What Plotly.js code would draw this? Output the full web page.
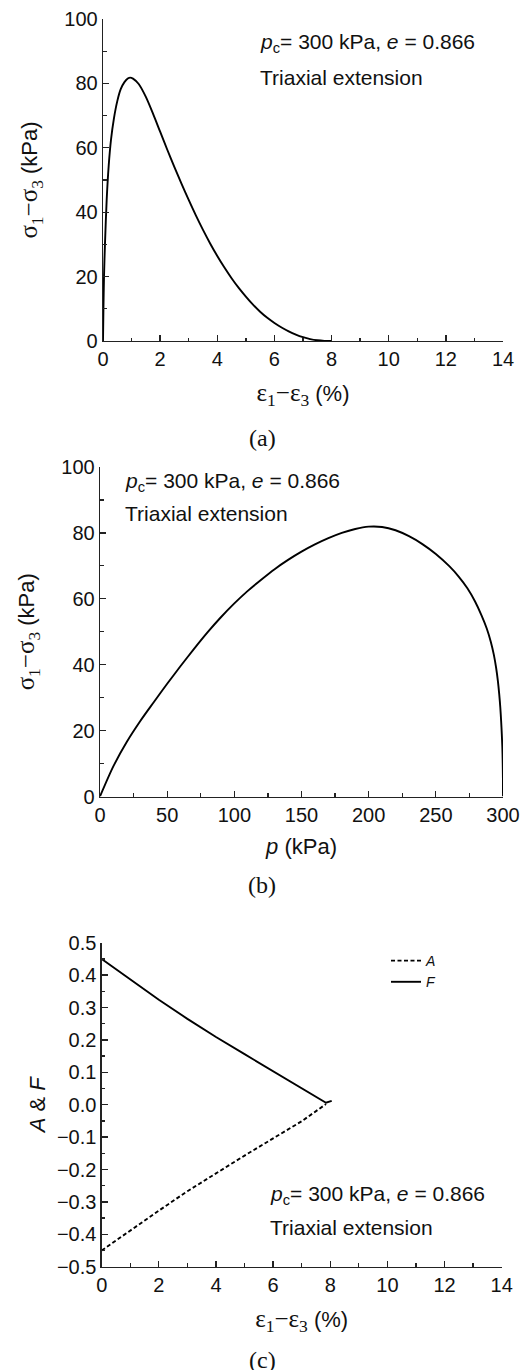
<!DOCTYPE html>
<html><head><meta charset="utf-8">
<script src="https://cdn.plot.ly/plotly-3.0.1.min.js"></script>
<style>html,body{margin:0;padding:0;background:#fff;}#chart{width:528px;height:1370px;}</style>
</head><body><div id="chart"></div>
<script>
// Panel (a): deviator stress vs strain difference
const strainA = [0, 0.015, 0.035, 0.07, 0.13, 0.2, 0.28, 0.38, 0.5, 0.62, 0.75, 0.88, 0.95, 1.05, 1.25, 1.5, 1.75, 2.0, 2.25, 2.5, 2.75, 3.0, 3.25, 3.5, 3.75, 4.0, 4.25, 4.5, 4.75, 5.0, 5.25, 5.5, 5.75, 6.0, 6.25, 6.5, 6.75, 7.0, 7.25, 7.5, 7.75, 8.0];
const devStressA = [0, 10, 20, 30.4, 44, 54.5, 62.5, 69, 74.5, 78.2, 80.4, 81.6, 81.8, 81.5, 79.8, 75.8, 70.6, 65, 59.4, 54, 48.8, 43.8, 39, 34.5, 30.3, 26.4, 22.8, 19.5, 16.5, 13.8, 11.3, 9.1, 7.2, 5.6, 4.2, 3.0, 2.0, 1.2, 0.6, 0.22, 0.04, 0];
// Panel (b): stress path
const meanP = [0, 10, 20, 30, 40, 50, 60, 70, 80, 90, 100, 110, 120, 130, 140, 150, 160, 170, 180, 190, 200, 210, 220, 230, 240, 250, 260, 267, 273.5, 279.2, 284, 287.9, 290.9, 293.2, 294.9, 296.2, 297.2, 298, 298.6, 299.1, 299.5, 299.75, 299.95, 300];
const devStressB = [0, 9.2, 16.6, 22.9, 28.6, 34.2, 39.6, 44.8, 49.8, 54.4, 58.6, 62.4, 65.8, 69, 71.8, 74.3, 76.5, 78.4, 80, 81.2, 81.9, 81.8, 80.8, 79, 76.6, 73.6, 69.9, 66.75, 63.2, 59.2, 55, 51, 47, 43, 39, 35, 31, 27, 23, 19, 15, 11, 5.5, 0];
// Panel (c): A and F
const strainCA = [0, 1, 2, 3, 3.9, 5, 6, 7, 7.85];
const valuesA = [-0.45, -0.388, -0.327, -0.267, -0.217, -0.157, -0.104, -0.051, 0.002];
const strainCF = [0, 1, 2, 3, 4, 5, 6, 7, 7.64, 7.85, 8.05];
const valuesF = [0.45, 0.386, 0.324, 0.265, 0.209, 0.156, 0.104, 0.052, 0.018, 0.006, 0.012];
const seriesNames = ['<i>A</i>', '<i>F</i>'];
const infoLine1 = '<i>p</i><sub>c</sub>= 300 kPa, <i>e</i> = 0.866';
const infoLine2 = 'Triaxial extension';
const panelLabels = ['(a)', '(b)', '(c)'];

const SANS = 'Liberation Sans, Arial, Helvetica, sans-serif';
const SERIF = 'Liberation Serif, Times New Roman, serif';
const INK = '#111';
const AX = '#222';
const serifSpan = t => '<span style="font-family:Liberation Serif,Times New Roman,serif;font-size:25px">' + t + '</span>';
const strainTitle = serifSpan('ε<sub>1</sub>−ε<sub>3</sub>') + ' (%)';
const stressTitle = serifSpan('σ<sub>1</sub>−σ<sub>3</sub>') + ' (kPa)';

function axis(o) {
  return Object.assign({
    showline: true, linecolor: AX, linewidth: 1.3,
    ticks: 'inside', ticklen: 6, tickwidth: 1.3, tickcolor: AX,
    showgrid: false, zeroline: false, fixedrange: true,
    tickfont: {family: SANS, size: 20, color: INK}
  }, o);
}
function minor(d) { return {ticks: 'inside', ticklen: 3.5, tickwidth: 1.3, tickcolor: AX, dtick: d, showgrid: false}; }

const smoothLine = {color: '#000', width: 1.9, shape: 'spline', smoothing: 0.8};

const traces = [
  {x: strainA, y: devStressA, xaxis: 'x', yaxis: 'y', mode: 'lines', line: smoothLine, showlegend: false},
  {x: meanP, y: devStressB, xaxis: 'x2', yaxis: 'y2', mode: 'lines', line: smoothLine, showlegend: false},
  {x: strainCA, y: valuesA, xaxis: 'x3', yaxis: 'y3', mode: 'lines', name: seriesNames[0],
   line: {color: '#000', width: 1.9, dash: '4px,2.5px'}},
  {x: strainCF, y: valuesF, xaxis: 'x3', yaxis: 'y3', mode: 'lines', name: seriesNames[1],
   line: {color: '#000', width: 1.9}}
];

const H = 1370, W = 528;
const py = px => 1 - px / H;
const pxx = px => px / W;

function info(x, y1, y2) {
  return [
    {text: infoLine1, x: pxx(x), y: py(y1), xref: 'paper', yref: 'paper', xanchor: 'left', yanchor: 'middle', showarrow: false, font: {family: SANS, size: 21, color: INK}},
    {text: infoLine2, x: pxx(x), y: py(y2), xref: 'paper', yref: 'paper', xanchor: 'left', yanchor: 'middle', showarrow: false, font: {family: SANS, size: 21, color: INK}}
  ];
}
function label(t, y) {
  return {text: t, x: 0.497, y: py(y), xref: 'paper', yref: 'paper', xanchor: 'center', yanchor: 'middle', showarrow: false, font: {family: SERIF, size: 24, color: INK}};
}

const annotations = [].concat(
  info(258, 43, 77),
  info(123, 482, 513),
  info(268, 1195, 1227),
  [label(panelLabels[0], 438), label(panelLabels[1], 885), label(panelLabels[2], 1360)]
);

const titleFont = {family: SANS, size: 22, color: INK};

const layout = {
  width: W, height: H,
  margin: {l: 0, r: 0, t: 0, b: 0},
  paper_bgcolor: '#fff', plot_bgcolor: 'rgba(0,0,0,0)',
  showlegend: true,
  legend: {x: pxx(386), y: py(945), xanchor: 'left', yanchor: 'top', bgcolor: 'rgba(0,0,0,0)',
           font: {family: SANS, size: 14, color: INK}, tracegroupgap: 0, itemwidth: 30},
  xaxis: axis({domain: [pxx(103), pxx(503)], range: [0, 14], dtick: 2, minor: minor(1), anchor: 'y',
               title: {text: strainTitle, font: titleFont, standoff: 16}}),
  yaxis: axis({domain: [py(341), py(19)], range: [0, 100], dtick: 20, minor: minor(10), anchor: 'x',
               title: {text: stressTitle, font: titleFont, standoff: 20}}),
  xaxis2: axis({domain: [pxx(100), pxx(503)], range: [0, 300], dtick: 50, minor: minor(25), anchor: 'y2',
               title: {text: '<i>p</i> (kPa)', font: titleFont, standoff: 13}}),
  yaxis2: axis({domain: [py(796.5), py(467)], range: [0, 100], dtick: 20, minor: minor(10), anchor: 'x2',
               title: {text: stressTitle, font: titleFont, standoff: 20}}),
  xaxis3: axis({domain: [pxx(101.7), pxx(501.7)], range: [0, 14], dtick: 2, minor: minor(1), anchor: 'y3',
               title: {text: strainTitle, font: titleFont, standoff: 16}}),
  yaxis3: axis({domain: [py(1266.7), py(942.7)], range: [-0.5, 0.5], dtick: 0.1, tickformat: '.1f', minor: minor(0.05), anchor: 'x3',
               title: {text: '<i>A</i> &amp; <i>F</i>', font: titleFont, standoff: 5}}),
  annotations: annotations
};

Plotly.newPlot('chart', traces, layout, {staticPlot: true, displayModeBar: false});
</script>
</body></html>
